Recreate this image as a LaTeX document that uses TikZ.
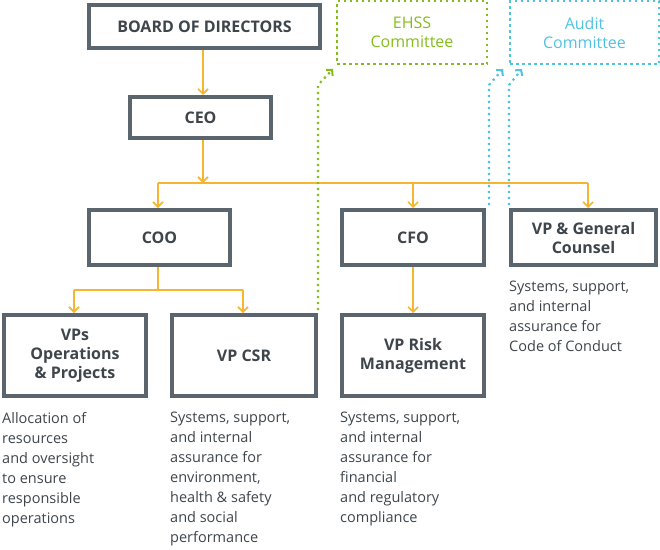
\documentclass[tikz,border=0pt]{standalone}
\usepackage{fontspec}
\setmainfont{Open Sans}
\usetikzlibrary{arrows.meta}
\definecolor{bx}{HTML}{5B656D}
\definecolor{tx}{HTML}{3E454B}
\definecolor{org}{HTML}{F6B530}
\definecolor{grn}{HTML}{84BD1C}
\definecolor{blu}{HTML}{4FC3E0}
\begin{document}
\begin{tikzpicture}[x=1pt,y=-1pt,
  box/.style={draw=bx,line width=4pt,fill=white,text=tx,font=\fontsize{16}{19}\selectfont\bfseries,align=center,inner sep=0pt},
  dbox/.style={line width=2.5pt,dash pattern=on 2.5pt off 3.5pt,font=\fontsize{16}{19}\selectfont,align=center,inner sep=0pt},
  arr/.style={draw=org,line width=1.6pt,-{Straight Barb[length=5pt,width=10pt]}},
  ln/.style={draw=org,line width=1.6pt},
  gd/.style={draw=grn,line width=2.2pt,dash pattern=on 2.2pt off 3.8pt,-{Straight Barb[length=4pt,width=9pt,line width=2pt]}},
  bd/.style={draw=blu,line width=2.2pt,dash pattern=on 2.2pt off 3.8pt,-{Straight Barb[length=4pt,width=9pt,line width=2pt]}},
  desc/.style={anchor=north west,text=tx,font=\fontsize{14.5}{20}\selectfont,align=left,inner sep=0pt}]
\useasboundingbox (0,0) rectangle (660,549);
\node[box,minimum width=231,minimum height=43] (bod) at (204.5,26.5) {BOARD OF DIRECTORS};
\node[dbox,draw=grn,text=grn,minimum width=150,minimum height=63] (ehss) at (412,32.5) {EHSS\\Committee};
\node[dbox,draw=blu,text=blu,minimum width=149,minimum height=63] (aud) at (584.5,32.5) {Audit\\Committee};
\node[box,minimum width=141,minimum height=41] (ceo) at (200.5,117.5) {CEO};
\node[box,minimum width=141,minimum height=55] (coo) at (159.5,237.5) {COO};
\node[box,minimum width=142,minimum height=55] (cfo) at (413,237.5) {CFO};
\node[box,minimum width=145,minimum height=55] (vpg) at (583.5,237.5) {VP \& General\\Counsel};
\node[box,minimum width=142,minimum height=81] (vpo) at (75,355.5) {VPs\\Operations\\\& Projects};
\node[box,minimum width=144,minimum height=81] (csr) at (244,355.5) {VP CSR};
\node[box,minimum width=142,minimum height=81] (risk) at (413,355.5) {VP Risk\\Management};
% orange connectors
\draw[arr] (bod.south -| 203,0) -- (ceo.north -| 203,0);
\coordinate (j1) at (203,183);
\draw[arr] (ceo.south -| j1) -- (j1);
\draw[ln] (158,183) -- (588,183);
\draw[arr] (158,183) -- (coo.north -| 158,0);
\draw[arr] (413,183) -- (cfo.north);
\draw[arr] (588,183) -- (vpg.north -| 588,0);
\draw[ln] (coo.south -| 158,0) -- (158,290);
\draw[ln] (74,290) -- (243,290);
\draw[arr] (74,290) -- (vpo.north -| 74,0);
\draw[arr] (243,290) -- (csr.north -| 243,0);
\draw[arr] (cfo.south) -- (risk.north);
% dotted
\coordinate (g1) at (318,85);
\coordinate (b1) at (489,85);
\coordinate (b2) at (509,85);
\draw[gd] (csr.north east |- 0,310) -- (318,85) -- (333,69);
\draw[bd] (489,205) -- (b1) -- (503,69);
\draw[bd] (509,205) -- (b2) -- (522,69);
% descriptions
\node[desc] (d1) at (2,412) {Allocation of\\resources\\and oversight\\to ensure\\responsible\\operations};
\node[desc] (d2) at (170,412) {Systems, support,\\and internal\\assurance for\\environment,\\health \& safety\\and social\\performance};
\node[desc] (d3) at (340,412) {Systems, support,\\and internal\\assurance for\\financial\\and regulatory\\compliance};
\node[desc] (d4) at (509,281) {Systems, support,\\and internal\\assurance for\\Code of Conduct};
\end{tikzpicture}
\end{document}
